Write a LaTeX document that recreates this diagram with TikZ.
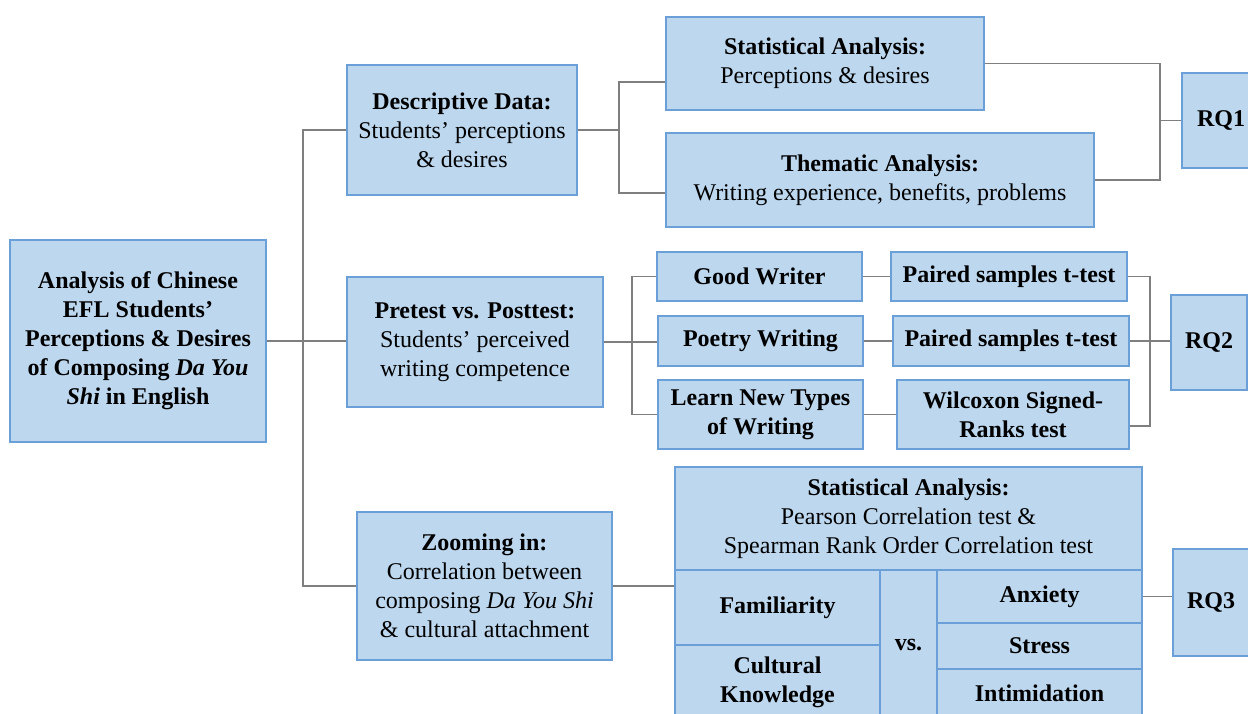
\documentclass[tikz,border=0pt]{standalone}
\usepackage{fontspec}
\setmainfont{Liberation Serif}
\definecolor{boxfill}{HTML}{BDD7EE}
\definecolor{boxline}{HTML}{6A9FD8}
\definecolor{conn}{HTML}{7F7F7F}
\begin{document}
\begin{tikzpicture}[x=1pt,y=-1pt,
  box/.style={draw=boxline, fill=boxfill, line width=1.2pt, inner sep=2pt, align=center,
    font=\fontsize{24}{29}\selectfont},
  link/.style={draw=conn, line width=1.2pt}]
\clip (0,0) rectangle (1248,713);
\fill[white] (0,0) rectangle (1248,713);
% boxes
\node[box, minimum width=256, minimum height=202] (main) at (138,341)
  {\textbf{Analysis of Chinese}\\\textbf{EFL Students’}\\\textbf{Perceptions \& Desires}\\\textbf{of Composing \textit{Da You}}\\\textbf{\textit{Shi} in English}};
\node[box, minimum width=230, minimum height=130] (desc) at (462,130)
  {\textbf{Descriptive Data:}\\Students’ perceptions\\\& desires};
\node[box, minimum width=318, minimum height=93] (stat1) at (825,63.5)
  {\textbf{Statistical Analysis:}\\Perceptions \& desires};
\node[box, minimum width=428, minimum height=94] (them) at (880,180)
  {\textbf{Thematic Analysis:}\\Writing experience, benefits, problems};
\node[box, minimum width=78, minimum height=95] (rq1) at (1221,120.5) {\textbf{RQ1}};
\node[box, minimum width=256, minimum height=130] (pre) at (475,342)
  {\textbf{Pretest vs. Posttest:}\\Students’ perceived\\writing competence};
\node[box, minimum width=205, minimum height=49] (gw) at (759.5,276.5) {\textbf{Good Writer}};
\node[box, minimum width=205, minimum height=50] (pw) at (760.5,341) {\textbf{Poetry Writing}};
\node[box, minimum width=205, minimum height=69] (ln) at (760.5,414.5) {\textbf{Learn New Types}\\\textbf{of Writing}};
\node[box, minimum width=236, minimum height=49] (pt1) at (1009,276.5) {\textbf{Paired samples t-test}};
\node[box, minimum width=236, minimum height=50] (pt2) at (1011,341) {\textbf{Paired samples t-test}};
\node[box, minimum width=232, minimum height=69] (wx) at (1013,414.5) {\textbf{Wilcoxon Signed-}\\\textbf{Ranks test}};
\node[box, minimum width=76, minimum height=95] (rq2) at (1209,342.5) {\textbf{RQ2}};
\node[box, minimum width=255, minimum height=148] (zoom) at (484.5,586)
  {\textbf{Zooming in:}\\Correlation between\\composing \textit{Da You Shi}\\\& cultural attachment};
\node[box, minimum width=467, minimum height=103] (stat2) at (908.5,518.5)
  {\textbf{Statistical Analysis:}\\Pearson Correlation test \&\\Spearman Rank Order Correlation test};
\node[box, minimum width=205, minimum height=75] (fam) at (777.5,607.5) {\textbf{Familiarity}};
\node[box, minimum width=205, minimum height=75] (cul) at (777.5,682.5) {\textbf{Cultural}\\\textbf{Knowledge}};
\node[box, minimum width=57, minimum height=150] (vs) at (908.5,645) {\textbf{vs.}};
\node[box, minimum width=205, minimum height=53] (anx) at (1039.5,596.5) {\textbf{Anxiety}};
\node[box, minimum width=205, minimum height=46] (str) at (1039.5,646) {\textbf{Stress}};
\node[box, minimum width=205, minimum height=48] (int) at (1039.5,693) {\textbf{Intimidation}};
\node[box, minimum width=76, minimum height=107] (rq3) at (1211,602.5) {\textbf{RQ3}};
% junction coordinates
\coordinate (tk) at (303,0);
\coordinate (b1) at (619,0);
\coordinate (b2) at (1160,0);
\coordinate (b3) at (632,0);
\coordinate (b4) at (1150,426);
% connectors
\draw[link] (main.east) -- (main.east -| pre.west);
\draw[link] (desc.west) -- (desc.west -| tk) |- (zoom.west);
\draw[link] (desc.east) -- (desc.east -| b1);
\draw[link] ([yshift=-18.5pt]stat1.west) -| (b1 |- them.west) |- ([yshift=-13pt]them.west);
\draw[link] (stat1.east) -| (b2 |- them.east) -- (them.east);
\draw[link] (rq1.west) -- (rq1.west -| b2);
\draw[link] (pre.east) -- (pre.east -| pw.west);
\draw[link] (gw.west) -| (ln.west -| b3) -- (ln.west);
\draw[link] (gw.east) -- (gw.east -| pt1.west);
\draw[link] (pw.east) -- (pw.east -| pt2.west);
\draw[link] (ln.east) -- (ln.east -| wx.west);
\draw[link] (pt1.east) -| (b4) -- (b4 -| wx.east);
\draw[link] (pt2.east) -- (pt2.east -| rq2.west);
\draw[link] (zoom.east) -- (zoom.east -| fam.west);
\draw[link] (anx.east) -- (anx.east -| rq3.west);
\end{tikzpicture}
\end{document}
